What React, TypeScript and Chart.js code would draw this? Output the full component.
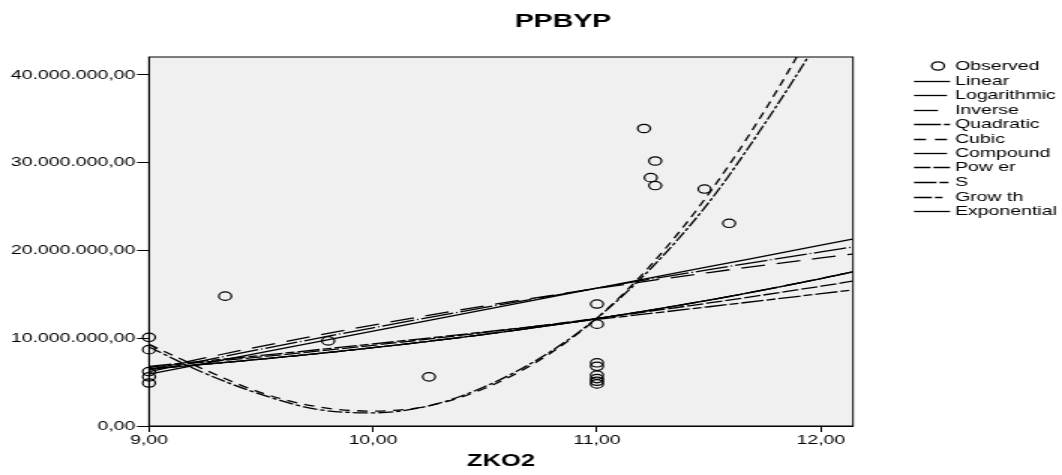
import { useEffect, useRef } from "react";
import { Chart, registerables } from "chart.js";
Chart.register(...registerables);

const M = 1000000;
const FAMILY = '"Liberation Sans", Arial, Helvetica, sans-serif';

// Observed values (y in millions)
const observedX = [9, 9, 9, 9, 9, 9.34, 9.8, 10.25, 11, 11, 11, 11, 11, 11, 11, 11, 11.21, 11.26, 11.24, 11.26, 11.48, 11.59];
const observedY = [10.1, 8.7, 6.2, 5.6, 4.9, 14.8, 9.7, 5.6, 13.9, 11.6, 7.2, 6.8, 5.8, 5.4, 5.1, 4.8, 33.9, 30.2, 28.3, 27.4, 27.0, 23.1];

// Fitted curves (y in millions)
const lineX = [9, 9.5, 10, 10.5, 11, 11.5, 12, 12.14];
const linearY = [5.9, 8.35, 10.8, 13.25, 15.7, 18.15, 20.6, 21.3];
const logarithmicY = [6.2, 8.76, 11.19, 13.51, 15.71, 17.82, 19.84, 20.4];
const inverseY = [6.4, 9.08, 11.5, 13.69, 15.67, 17.49, 19.15, 19.59];
const compoundY = [6.5, 7.61, 8.92, 10.45, 12.24, 14.34, 16.8, 17.55];
const powerY = [6.7, 7.88, 9.2, 10.66, 12.26, 14.02, 15.93, 16.5];
const sY = [6.8, 8.04, 9.35, 10.72, 12.14, 13.59, 15.08, 15.5];
const growthY = [6.5, 7.61, 8.92, 10.45, 12.24, 14.34, 16.8, 17.55];
const exponentialY = [6.5, 7.61, 8.92, 10.45, 12.24, 14.34, 16.8, 17.55];

const curveX = [9, 9.25, 9.5, 9.75, 10, 10.25, 10.5, 10.75, 11, 11.25, 11.5, 11.75, 12, 12.14];
const quadraticY = [9.0, 6.0, 3.6, 1.9, 1.5, 2.3, 4.5, 7.8, 12.3, 18.2, 25.5, 34.5, 44.5, 51];
const cubicY = [9.3, 6.4, 3.8, 2.2, 1.7, 2.3, 4.3, 7.6, 12.3, 18.6, 26.5, 36.0, 47.0, 54.0];

const xTicks = [9, 10, 11, 12];
const yTicks = [0, 10, 20, 30, 40];

const legendLabels = ["Observed", "Linear", "Logarithmic", "Inverse", "Quadratic", "Cubic", "Compound", "Pow er", "S", "Grow th", "Exponential"];

const W = 1062;
const H = 475;
const SX = 1.5;
const IW = W / SX;

const fmtY = (v: number) =>
  Math.round(v).toString().replace(/\B(?=(\d{3})+(?!\d))/g, ".") + ",00";

type Series = { label: string; xs: number[]; ys: number[]; dash: number[] };

const series: Series[] = [
  { label: "Linear", xs: lineX, ys: linearY, dash: [] },
  { label: "Logarithmic", xs: lineX, ys: logarithmicY, dash: [22, 2, 1, 2] },
  { label: "Inverse", xs: lineX, ys: inverseY, dash: [16, 8] },
  { label: "Quadratic", xs: curveX, ys: quadraticY, dash: [10, 2, 3, 2] },
  { label: "Cubic", xs: curveX, ys: cubicY, dash: [7, 5] },
  { label: "Compound", xs: lineX, ys: compoundY, dash: [22, 2, 1, 2] },
  { label: "Power", xs: lineX, ys: powerY, dash: [11, 2] },
  { label: "S", xs: lineX, ys: sY, dash: [15, 2, 6, 2] },
  { label: "Growth", xs: lineX, ys: growthY, dash: [12, 2, 5, 5] },
  { label: "Exponential", xs: lineX, ys: exponentialY, dash: [] },
];

const legendDash: number[][] = [
  [],
  [22, 2, 1, 2],
  [16, 8],
  [18, 2, 4, 2],
  [8, 6],
  [22, 2, 1, 2],
  [11, 2],
  [15, 2, 6, 2],
  [12, 2, 5, 5],
  [],
];

const rowY = [66, 81, 95, 110, 124, 139, 153, 167, 182, 197, 211];

const decor = {
  id: "decor",
  beforeDraw(chart: any) {
    const { ctx, chartArea: a } = chart;
    ctx.save();
    ctx.fillStyle = "#ffffff";
    ctx.fillRect(0, 0, chart.width, chart.height);
    ctx.fillStyle = "#f0f0f0";
    ctx.fillRect(a.left, a.top, a.right - a.left, a.bottom - a.top);
    ctx.restore();
  },
  afterDraw(chart: any) {
    const { ctx, chartArea: a } = chart;
    ctx.save();
    ctx.strokeStyle = "#000";
    ctx.lineWidth = 1;
    ctx.setLineDash([]);
    ctx.strokeRect(a.left, a.top, a.right - a.left, a.bottom - a.top);

    // title
    ctx.fillStyle = "#000";
    ctx.font = `bold 19px ${FAMILY}`;
    ctx.textAlign = "center";
    ctx.textBaseline = "middle";
    ctx.fillText("PPBYP", 563 / SX, 22);

    // legend
    const x0 = 914 / SX;
    const x1 = 950 / SX;
    const tx = 955 / SX;
    ctx.font = `13px ${FAMILY}`;
    ctx.textAlign = "left";
    legendLabels.forEach((lab, i) => {
      const y = rowY[i];
      if (i === 0) {
        ctx.beginPath();
        ctx.lineWidth = 1.2;
        ctx.arc(938 / SX, y, 4.2, 0, Math.PI * 2);
        ctx.stroke();
      } else {
        ctx.beginPath();
        ctx.lineWidth = 1.3;
        ctx.setLineDash(legendDash[i - 1]);
        ctx.moveTo(x0, y + 0.5);
        ctx.lineTo(x1, y + 0.5);
        ctx.stroke();
        ctx.setLineDash([]);
      }
      ctx.fillText(lab, tx, y);
    });
    ctx.restore();
  },
};

export default function App() {
  const ref = useRef<HTMLCanvasElement | null>(null);
  useEffect(() => {
    document.body.style.margin = "0";
    const canvas = ref.current;
    if (!canvas) return;
    const datasets: any[] = [
      {
        label: "Observed",
        data: observedX.map((x, i) => ({ x, y: observedY[i] * M })),
        showLine: false,
        pointStyle: "circle",
        pointRadius: 4.2,
        pointBorderWidth: 1.2,
        borderColor: "#000",
        backgroundColor: "rgba(0,0,0,0)",
        clip: 6,
      },
      ...series.map((s) => ({
        label: s.label,
        data: s.xs.map((x, i) => ({ x, y: s.ys[i] * M })),
        showLine: true,
        pointRadius: 0,
        borderColor: "#000",
        backgroundColor: "rgba(0,0,0,0)",
        borderWidth: 1.3,
        borderDash: s.dash,
        cubicInterpolationMode: "monotone",
        fill: false,
        clip: 0,
      })),
    ];
    const chart = new Chart(canvas, {
      type: "scatter",
      data: { datasets },
      options: {
        responsive: false,
        animation: false,
        events: [],
        layout: { padding: { top: 57, right: IW - 853 / SX, bottom: 0, left: 0 } },
        plugins: { legend: { display: false }, tooltip: { enabled: false }, title: { display: false } },
        scales: {
          x: {
            type: "linear",
            min: 9,
            max: 12.143,
            afterBuildTicks: (s: any) => {
              s.ticks = xTicks.map((v) => ({ value: v }));
            },
            afterFit: (s: any) => {
              s.height = 49;
            },
            ticks: {
              callback: (v: any) => Number(v).toFixed(2).replace(".", ","),
              font: { family: FAMILY, size: 13 },
              color: "#000",
              padding: 1,
              maxRotation: 0,
              autoSkip: false,
            },
            grid: { drawOnChartArea: false, drawTicks: true, tickLength: 6, color: "#000", lineWidth: 1 },
            border: { display: true, color: "#000", width: 1 },
            title: {
              display: true,
              text: "ZKO2",
              color: "#000",
              font: { family: FAMILY, size: 17, weight: "bold" },
              padding: { top: 0, bottom: 3 },
            },
          },
          y: {
            type: "linear",
            min: 0,
            max: 42.05 * M,
            afterBuildTicks: (s: any) => {
              s.ticks = yTicks.map((v) => ({ value: v * M }));
            },
            afterFit: (s: any) => {
              s.width = 149 / SX;
            },
            ticks: {
              callback: (v: any) => fmtY(Number(v)),
              font: { family: FAMILY, size: 13 },
              color: "#000",
              padding: 1,
              autoSkip: false,
            },
            grid: { drawOnChartArea: false, drawTicks: true, tickLength: 8, color: "#000", lineWidth: 1 },
            border: { display: true, color: "#000", width: 1 },
          },
        },
      },
      plugins: [decor],
    } as any);
    return () => chart.destroy();
  }, []);
  return (
    <div style={{ position: "absolute", left: 0, top: 0, width: W, height: H }}>
      <canvas
        ref={ref}
        width={IW}
        height={H}
        style={{ width: `${W}px`, height: `${H}px`, display: "block" }}
      />
    </div>
  );
}
